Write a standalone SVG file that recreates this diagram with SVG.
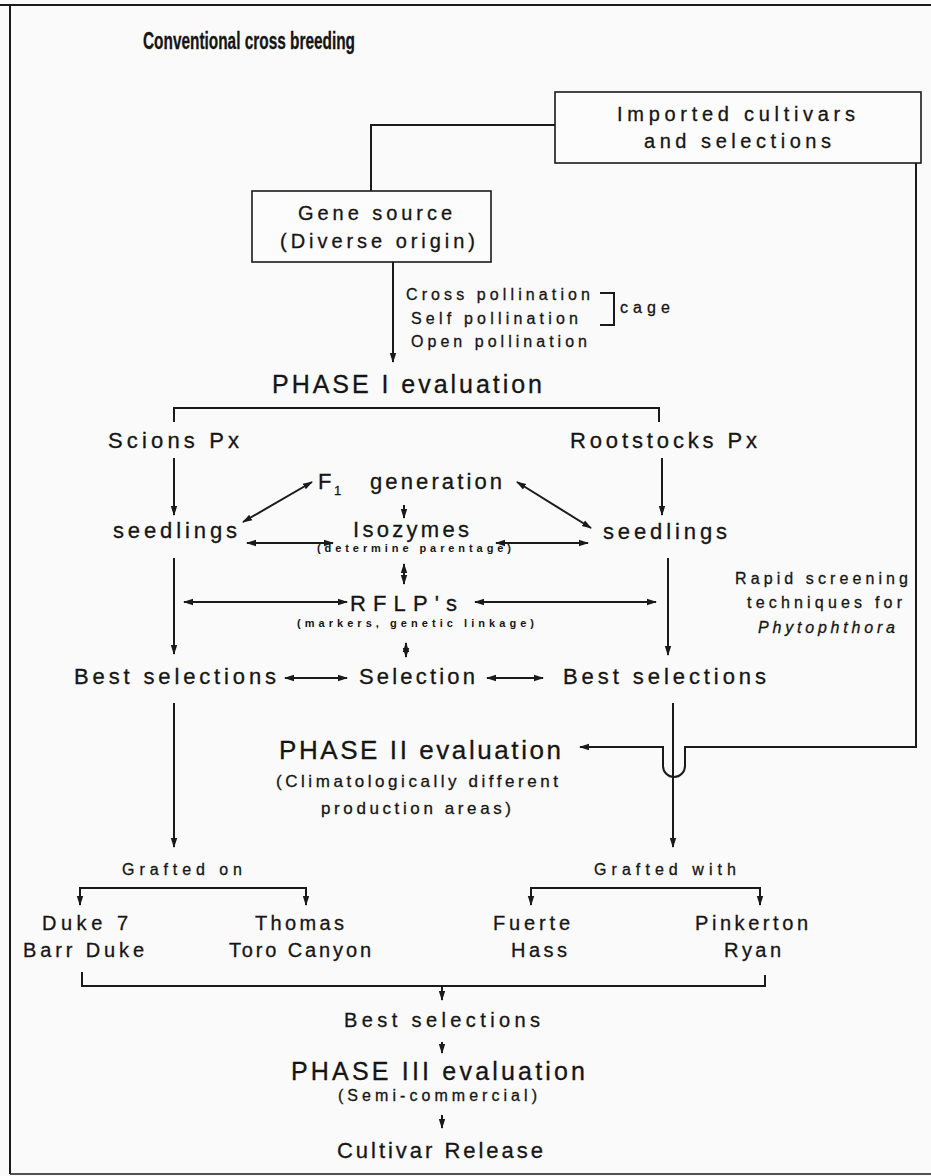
<svg xmlns="http://www.w3.org/2000/svg" width="931" height="1176" viewBox="0 0 931 1176">
<style>
text{font-family:"Liberation Sans",Arial,sans-serif;fill:#151515;stroke:#151515;stroke-width:0.3}
.t{font-size:22px}
.m{font-size:20px}
.s{font-size:16px}
.xs{font-size:11px;font-weight:bold;stroke-width:0}
.ph{font-size:25px}
.ln{fill:none;stroke:#1a1a1a;stroke-width:2}
.box{fill:#fcfcfc;stroke:#1a1a1a;stroke-width:1.6}
</style>
<defs>
<marker id="ah" viewBox="0 0 10 8" refX="9" refY="4" markerWidth="10" markerHeight="8" markerUnits="userSpaceOnUse" orient="auto-start-reverse">
<path d="M0,0.8 L10,4 L0,7.2 Z" fill="#1a1a1a"/>
</marker>
</defs>
<rect x="0" y="0" width="931" height="1176" fill="#fafafa"/>
<g id="frame" class="ln">
<path d="M0,5 H931"/>
<path d="M10,5 V1174"/>
<path d="M10,1174 H931" stroke-width="1.5"/>
</g>
<g id="title"><text x="143" y="49" font-size="23" font-weight="bold" textLength="212" lengthAdjust="spacingAndGlyphs">Conventional cross breeding</text></g>
<g id="imported">
<rect class="box" x="555" y="92" width="366" height="71"/>
<text class="m" x="617" y="121" font-size="19" textLength="238">Imported cultivars</text>
<text class="m" x="644" y="148" font-size="19" textLength="187">and selections</text>
</g>
<g id="gene-source">
<rect class="box" x="252" y="191" width="239" height="71"/>
<text class="m" x="298" y="220" textLength="154">Gene source</text>
<text class="m" x="280" y="248" textLength="195">(Diverse origin)</text>
</g>
<g id="pollination">
<text class="s" x="406" y="300" textLength="184">Cross pollination</text>
<text class="s" x="411" y="324" textLength="167">Self pollination</text>
<text class="s" x="411" y="347" textLength="176">Open pollination</text>
<path class="ln" d="M600,293 H614 V325 H600"/>
<text class="s" x="620" y="313" textLength="50">cage</text>
</g>
<g id="phase1"><text class="ph" x="272" y="393" textLength="270">PHASE I evaluation</text></g>
<g id="scions"><text class="t" x="108" y="448" textLength="131">Scions Px</text></g>
<g id="rootstocks"><text class="t" x="570" y="448" textLength="187">Rootstocks Px</text></g>
<g id="f1"><text class="t" x="318" y="489">F</text><text x="334" y="495" font-size="13">1</text><text class="t" x="370" y="489" textLength="132">generation</text></g>
<g id="seedlings-left"><text class="t" x="113" y="538" textLength="124">seedlings</text></g>
<g id="isozymes"><text class="t" x="353" y="537" textLength="116">Isozymes</text><text class="xs" x="317" y="552" textLength="194">(determine parentage)</text></g>
<g id="seedlings-right"><text class="t" x="603" y="539" textLength="124">seedlings</text></g>
<g id="rflp"><text class="t" x="350" y="611" textLength="107">RFLP's</text><text class="xs" x="297" y="627" textLength="237">(markers, genetic linkage)</text></g>
<g id="rapid">
<text class="s" x="735" y="584" textLength="173">Rapid screening</text>
<text class="s" x="747" y="608" textLength="155">techniques for</text>
<text class="s" x="758" y="633" font-size="17" font-style="italic" textLength="137">Phytophthora</text>
</g>
<g id="best-left"><text class="t" x="74" y="684" textLength="202">Best selections</text></g>
<g id="selection"><text class="t" x="359" y="684" textLength="116">Selection</text></g>
<g id="best-right"><text class="t" x="563" y="684" textLength="203">Best selections</text></g>
<g id="phase2">
<text x="279" y="759" font-size="26" textLength="282">PHASE II evaluation</text>
<text x="276" y="787" font-size="17" textLength="282">(Climatologically different</text>
<text x="321" y="814" font-size="17" textLength="190">production areas)</text>
</g>
<g id="grafted-on"><text class="s" x="122" y="875" textLength="120">Grafted on</text></g>
<g id="grafted-with"><text class="s" x="594" y="875" textLength="142">Grafted with</text></g>
<g id="duke"><text class="m" x="42" y="930" textLength="86">Duke 7</text><text class="m" x="23" y="957" textLength="121">Barr Duke</text></g>
<g id="thomas"><text class="m" x="255" y="930" textLength="89">Thomas</text><text class="m" x="229" y="957" textLength="142">Toro Canyon</text></g>
<g id="fuerte"><text class="m" x="493" y="930" textLength="77">Fuerte</text><text class="m" x="511" y="957" textLength="56">Hass</text></g>
<g id="pinkerton"><text class="m" x="695" y="930" textLength="113">Pinkerton</text><text class="m" x="724" y="957" textLength="57">Ryan</text></g>
<g id="best-final"><text class="m" x="344" y="1027" textLength="196">Best selections</text></g>
<g id="phase3"><text class="ph" x="291" y="1080" textLength="294">PHASE III evaluation</text><text class="s" x="338" y="1101" textLength="199">(Semi-commercial)</text></g>
<g id="release"><text x="337" y="1158" font-size="22" textLength="206">Cultivar Release</text></g>
<g id="connectors" class="ln">
<path d="M555,125 H371 V191"/>
<path d="M393,262 V362" marker-end="url(#ah)"/>
<path d="M174,422 V408 H659 V422"/>
<path d="M174,458 V515" marker-end="url(#ah)"/>
<path d="M662,458 V515" marker-end="url(#ah)"/>
<path d="M243,522 L312,482" marker-start="url(#ah)" marker-end="url(#ah)"/>
<path d="M517,482 L591,528" marker-start="url(#ah)" marker-end="url(#ah)"/>
<path d="M404,505 V518" marker-end="url(#ah)"/>
<path d="M247,543 H333" marker-start="url(#ah)" marker-end="url(#ah)"/>
<path d="M496,543 H588" marker-start="url(#ah)" marker-end="url(#ah)"/>
<path d="M404,564 V584" marker-start="url(#ah)" marker-end="url(#ah)"/>
<path d="M174,558 V654" marker-end="url(#ah)"/>
<path d="M668,558 V655" marker-end="url(#ah)"/>
<path d="M184,602 H347" marker-start="url(#ah)" marker-end="url(#ah)"/>
<path d="M475,602 H656" marker-start="url(#ah)" marker-end="url(#ah)"/>
<path d="M406,643 V657" marker-start="url(#ah)" marker-end="url(#ah)"/>
<path d="M285,678 H347" marker-start="url(#ah)" marker-end="url(#ah)"/>
<path d="M487,678 H543" marker-start="url(#ah)" marker-end="url(#ah)"/>
<path d="M174,703 V847" marker-end="url(#ah)"/>
<path d="M673,703 V847" marker-end="url(#ah)"/>
<path d="M916,163 V747 H685 V766 A11,11 0 0 1 663,766 V747 H580" marker-end="url(#ah)"/>
<path d="M80,905 V888 H306 V905" marker-start="url(#ah)" marker-end="url(#ah)"/>
<path d="M531,905 V888 H760 V905" marker-start="url(#ah)" marker-end="url(#ah)"/>
<path d="M82,972 V986 H765 V975"/>
<path d="M442,986 V1000" marker-end="url(#ah)"/>
<path d="M442,1042 V1053" marker-end="url(#ah)"/>
<path d="M442,1115 V1128" marker-end="url(#ah)"/>
</g>
</svg>
